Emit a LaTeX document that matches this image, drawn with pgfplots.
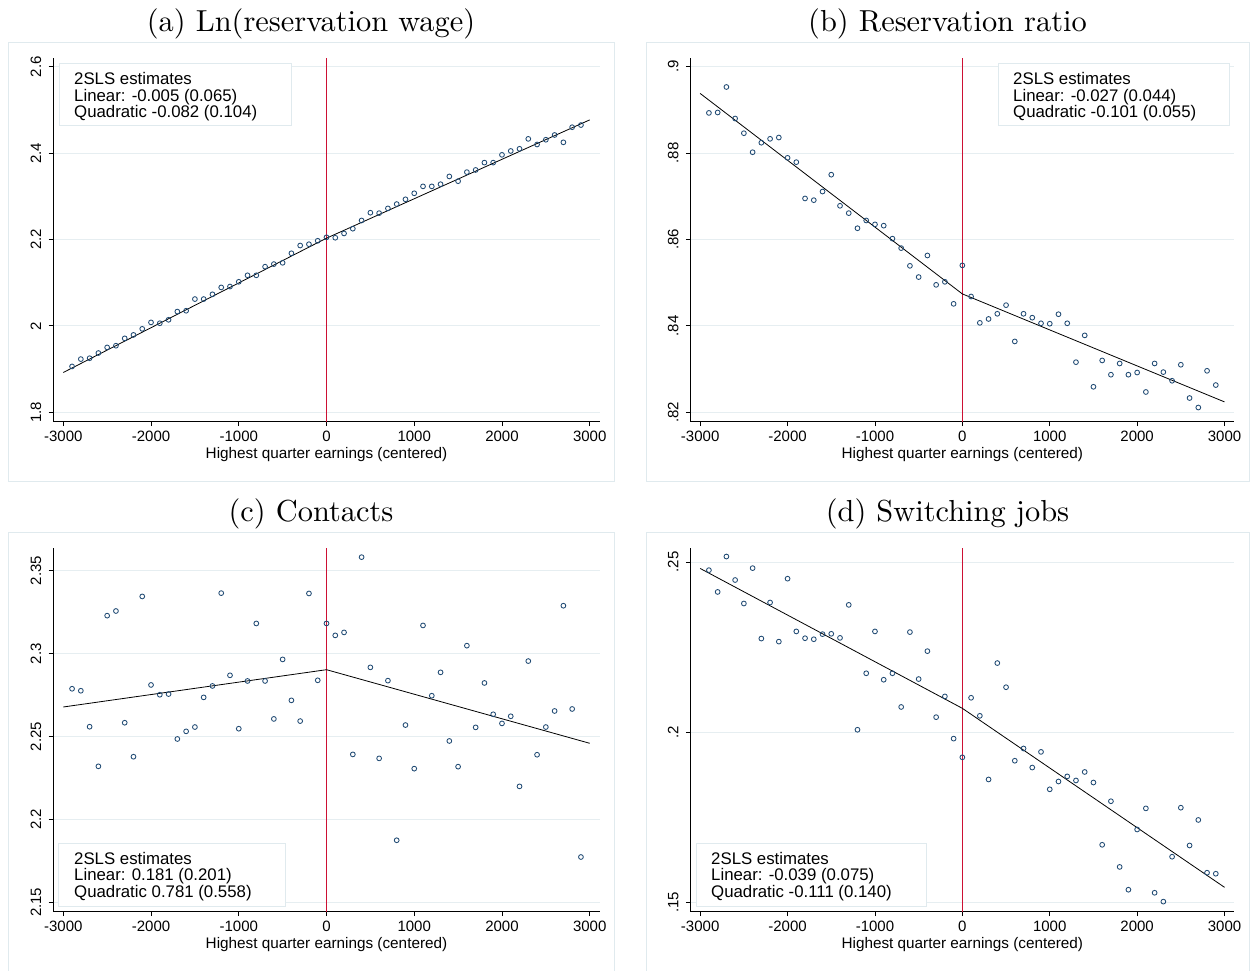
\documentclass[border=0pt]{standalone}
\usepackage{pgfplots}
\pgfplotsset{compat=1.18}
\usepackage{fontspec}
\newfontfamily\arial{Liberation Sans}
\newfontfamily\titlerm{lmroman10-regular}[Extension=.otf]

\definecolor{navy}{RGB}{32,74,115}
\definecolor{cutoffred}{RGB}{205,16,52}
\definecolor{gridgray}{RGB}{230,238,241}
\definecolor{boxgray}{RGB}{224,234,238}

\pgfplotsset{
  rdpanel/.style={
    scale only axis, anchor=south west, height=364pt,
    axis lines*=left,
    axis line style={black, line width=0.9pt},
    tick align=outside, major tick length=4.5pt,
    every tick/.style={black, line width=0.9pt},
    xtick={-3000,-2000,-1000,0,1000,2000,3000},
    xticklabels={-3000,-2000,-1000,0,1000,2000,3000},
    ymajorgrids, grid style={gridgray, line width=0.9pt},
    tick label style={font=\arial\fontsize{15}{15}\selectfont},
    xticklabel style={anchor=base, inner sep=0pt},
    xticklabel shift=15.5pt,
    yticklabel style={rotate=90, anchor=base, inner sep=0pt},
    yticklabel shift=7.5pt,
    xlabel={Highest quarter earnings (centered)},
    xlabel style={font=\arial\fontsize{15.3}{15.3}\selectfont,
      at={(axis description cs:0.5,0)}, anchor=base, yshift=-36.6pt, inner sep=0pt},
  },
  bins/.style={only marks, mark=o, mark size=2.4pt, color=navy,
    mark options={line width=0.85pt}},
  fit/.style={black, line width=0.8pt, no marks},
  cutoff/.style={cutoffred, line width=1.3pt, no marks},
}

\newcommand{\estfont}{\arial\fontsize{16.8}{16.8}\selectfont}
\newcommand{\titlefont}{\titlerm\fontsize{30.4}{36}\selectfont}

\begin{document}
\begin{tikzpicture}
\useasboundingbox (0pt,0pt) rectangle (1251pt,970pt);

% panel frames
\draw[boxgray, line width=1pt] (8pt,488.3pt) rectangle (614pt,927.3pt);
\draw[boxgray, line width=1pt] (646pt,488.3pt) rectangle (1249pt,927.3pt);
\draw[boxgray, line width=1pt] (8pt,-2pt) rectangle (614pt,437.3pt);
\draw[boxgray, line width=1pt] (646pt,-2pt) rectangle (1249pt,437.3pt);

% titles
\node[anchor=base, font=\titlefont] at (311pt,938.3pt) {(a) Ln(reservation wage)};
\node[anchor=base, font=\titlefont] at (947.5pt,938.3pt) {(b) Reservation ratio};
\node[anchor=base, font=\titlefont] at (311pt,448.3pt) {(c) Contacts};
\node[anchor=base, font=\titlefont] at (947.5pt,448.3pt) {(d) Switching jobs};

% (a) Ln(reservation wage)
\begin{axis}[rdpanel, at={(53.2pt,548.3pt)}, width=546.6pt,
  xmin=-3115, xmax=3115, ymin=1.778, ymax=2.621,
  ytick={1.8,2,2.2,2.4,2.6}, yticklabels={1.8,2,2.2,2.4,2.6}]
\addplot[cutoff] coordinates {(0,1.778) (0,2.621)};
\addplot[bins] table {
x y
-2900 1.906
-2800 1.923
-2700 1.925
-2600 1.937
-2500 1.950
-2400 1.954
-2300 1.971
-2200 1.979
-2100 1.993
-2000 2.008
-1900 2.006
-1800 2.014
-1700 2.033
-1600 2.035
-1500 2.062
-1400 2.062
-1300 2.073
-1200 2.089
-1100 2.091
-1000 2.102
-900 2.117
-800 2.117
-700 2.137
-600 2.143
-500 2.146
-400 2.168
-300 2.186
-200 2.189
-100 2.197
0 2.205
100 2.204
200 2.214
300 2.225
400 2.244
500 2.262
600 2.261
700 2.272
800 2.282
900 2.293
1000 2.307
1100 2.323
1200 2.323
1300 2.328
1400 2.346
1500 2.335
1600 2.356
1700 2.361
1800 2.378
1900 2.378
2000 2.396
2100 2.405
2200 2.410
2300 2.433
2400 2.420
2500 2.431
2600 2.442
2700 2.425
2800 2.460
2900 2.465
};
\addplot[fit] coordinates {(-3000,1.892) (0,2.203) (3000,2.477)};
\end{axis}

% (b) Reservation ratio
\begin{axis}[rdpanel, at={(690.3pt,548.3pt)}, width=544.1pt,
  xmin=-3113, xmax=3113, ymin=0.81782, ymax=0.90208,
  ytick={0.82,0.84,0.86,0.88,0.9}, yticklabels={.82,.84,.86,.88,.9}]
\addplot[cutoff] coordinates {(0,0.81782) (0,0.90208)};
\addplot[bins] table {
x y
-2900 0.8893
-2800 0.8894
-2700 0.8953
-2600 0.8880
-2500 0.8846
-2400 0.8802
-2300 0.8824
-2200 0.8833
-2100 0.8836
-2000 0.8789
-1900 0.8779
-1800 0.8695
-1700 0.8691
-1600 0.8711
-1500 0.8750
-1400 0.8678
-1300 0.8661
-1200 0.8626
-1100 0.8644
-1000 0.8635
-900 0.8632
-800 0.8602
-700 0.8580
-600 0.8539
-500 0.8513
-400 0.8563
-300 0.8495
-200 0.8502
-100 0.8451
0 0.8540
100 0.8468
200 0.8407
300 0.8416
400 0.8428
500 0.8448
600 0.8364
700 0.8428
800 0.8419
900 0.8406
1000 0.8405
1100 0.8427
1200 0.8406
1300 0.8316
1400 0.8378
1500 0.8259
1600 0.8320
1700 0.8287
1800 0.8313
1900 0.8287
2000 0.8292
2100 0.8247
2200 0.8313
2300 0.8293
2400 0.8273
2500 0.8310
2600 0.8233
2700 0.8211
2800 0.8296
2900 0.8263
};
\addplot[fit] coordinates {(-3000,0.8938) (0,0.8474) (3000,0.8224)};
\end{axis}

% (c) Contacts
\begin{axis}[rdpanel, at={(53.2pt,58.3pt)}, width=546.6pt,
  xmin=-3115, xmax=3115, ymin=2.1443, ymax=2.3639,
  ytick={2.15,2.2,2.25,2.3,2.35}, yticklabels={2.15,2.2,2.25,2.3,2.35}]
\addplot[cutoff] coordinates {(0,2.1443) (0,2.3639)};
\addplot[bins] table {
x y
-2900 2.2788
-2800 2.2776
-2700 2.2559
-2600 2.2320
-2500 2.3229
-2400 2.3257
-2300 2.2583
-2200 2.2378
-2100 2.3345
-2000 2.2811
-1900 2.2752
-1800 2.2756
-1700 2.2485
-1600 2.2531
-1500 2.2557
-1400 2.2736
-1300 2.2805
-1200 2.3365
-1100 2.2869
-1000 2.2547
-900 2.2835
-800 2.3182
-700 2.2835
-600 2.2606
-500 2.2965
-400 2.2718
-300 2.2593
-200 2.3363
-100 2.2839
0 2.3182
100 2.3110
200 2.3128
300 2.2392
400 2.3582
500 2.2917
600 2.2368
700 2.2837
800 2.1874
900 2.2569
1000 2.2306
1100 2.3170
1200 2.2746
1300 2.2887
1400 2.2473
1500 2.2318
1600 2.3048
1700 2.2555
1800 2.2823
1900 2.2634
2000 2.2579
2100 2.2622
2200 2.2199
2300 2.2955
2400 2.2390
2500 2.2557
2600 2.2654
2700 2.3289
2800 2.2666
2900 2.1773
};
\addplot[fit] coordinates {(-3000,2.2678) (0,2.2903) (3000,2.2459)};
\end{axis}

% (d) Switching jobs
\begin{axis}[rdpanel, at={(690.3pt,58.3pt)}, width=544.1pt,
  xmin=-3113, xmax=3113, ymin=0.14724, ymax=0.2542,
  ytick={0.15,0.2,0.25}, yticklabels={.15,.2,.25}]
\addplot[cutoff] coordinates {(0,0.14724) (0,0.2542)};
\addplot[bins] table {
x y
-2900 0.2476
-2800 0.2412
-2700 0.2516
-2600 0.2447
-2500 0.2378
-2400 0.2482
-2300 0.2275
-2200 0.2381
-2100 0.2266
-2000 0.2451
-1900 0.2296
-1800 0.2276
-1700 0.2273
-1600 0.2288
-1500 0.2289
-1400 0.2277
-1300 0.2374
-1200 0.2007
-1100 0.2173
-1000 0.2296
-900 0.2154
-800 0.2173
-700 0.2074
-600 0.2294
-500 0.2156
-400 0.2238
-300 0.2044
-200 0.2105
-100 0.1981
0 0.1926
100 0.2101
200 0.2048
300 0.1861
400 0.2203
500 0.2132
600 0.1916
700 0.1952
800 0.1896
900 0.1942
1000 0.1832
1100 0.1855
1200 0.1870
1300 0.1858
1400 0.1883
1500 0.1852
1600 0.1669
1700 0.1797
1800 0.1604
1900 0.1537
2000 0.1714
2100 0.1776
2200 0.1528
2300 0.1502
2400 0.1634
2500 0.1778
2600 0.1667
2700 0.1742
2800 0.1587
2900 0.1584
};
\addplot[fit] coordinates {(-3000,0.2481) (0,0.2070) (3000,0.1544)};
\end{axis}

% estimate boxes
\draw[boxgray, fill=white, line width=1pt] (59.3pt,844pt) rectangle (291pt,906.7pt);
\node[anchor=base west, inner sep=0pt, font=\estfont] at (74pt,885.3pt) {2SLS estimates};
\node[anchor=base west, inner sep=0pt, font=\estfont] at (74pt,868.8pt) {Linear: -0.005 (0.065)};
\node[anchor=base west, inner sep=0pt, font=\estfont] at (74pt,852.3pt) {Quadratic -0.082 (0.104)};

\draw[boxgray, fill=white, line width=1pt] (998pt,844pt) rectangle (1229pt,906.7pt);
\node[anchor=base west, inner sep=0pt, font=\estfont] at (1013pt,885.3pt) {2SLS estimates};
\node[anchor=base west, inner sep=0pt, font=\estfont] at (1013pt,868.8pt) {Linear: -0.027 (0.044)};
\node[anchor=base west, inner sep=0pt, font=\estfont] at (1013pt,852.3pt) {Quadratic -0.101 (0.055)};

\draw[boxgray, fill=white, line width=1pt] (58.8pt,63.3pt) rectangle (285pt,126.7pt);
\node[anchor=base west, inner sep=0pt, font=\estfont] at (74pt,106pt) {2SLS estimates};
\node[anchor=base west, inner sep=0pt, font=\estfont] at (74pt,89.2pt) {Linear: 0.181 (0.201)};
\node[anchor=base west, inner sep=0pt, font=\estfont] at (74pt,72.4pt) {Quadratic 0.781 (0.558)};

\draw[boxgray, fill=white, line width=1pt] (696.2pt,63.3pt) rectangle (926.7pt,126.7pt);
\node[anchor=base west, inner sep=0pt, font=\estfont] at (711pt,106pt) {2SLS estimates};
\node[anchor=base west, inner sep=0pt, font=\estfont] at (711pt,89.2pt) {Linear: -0.039 (0.075)};
\node[anchor=base west, inner sep=0pt, font=\estfont] at (711pt,72.4pt) {Quadratic -0.111 (0.140)};
\end{tikzpicture}
\end{document}
